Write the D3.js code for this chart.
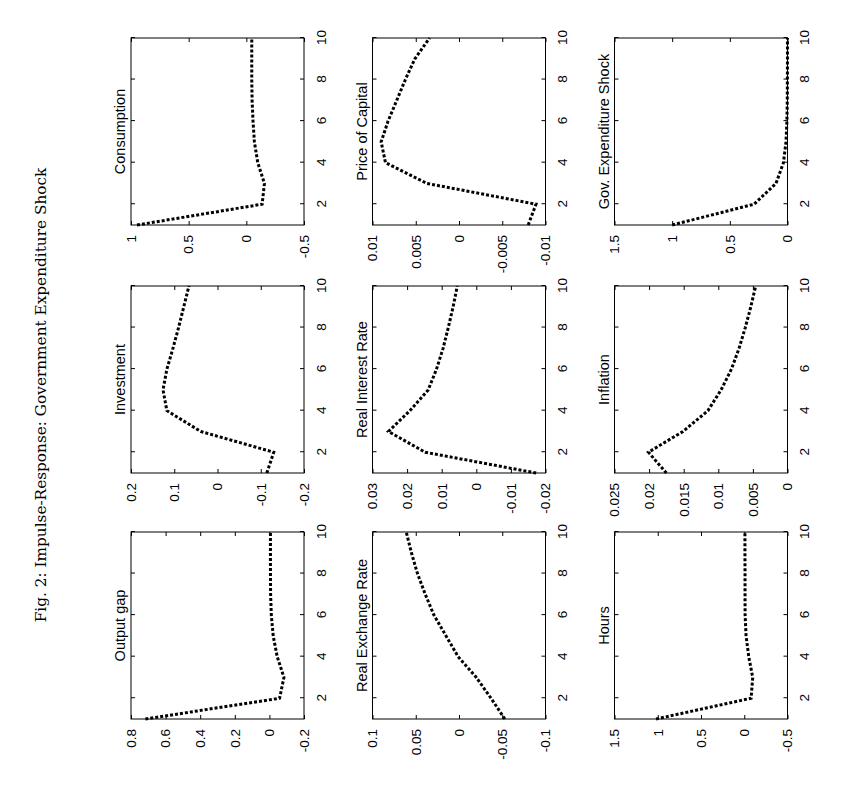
<!DOCTYPE html>
<html lang="en">
<head>
<meta charset="UTF-8">
<title>Impulse-Response: Government Expenditure Shock</title>
<script src="https://cdnjs.cloudflare.com/ajax/libs/d3/7.8.5/d3.min.js"></script>
<style>
  body { margin: 0; background: #fff; }
  .tick text { font-family: "Liberation Sans", Arial, sans-serif; font-size: 13.5px; fill: #000; }
  .tick line { stroke: #000; }
</style>
</head>
<body>
<svg id="chart" width="852" height="788"></svg>
<script>

// periods after the shock
var periods = [1, 2, 3, 4, 5, 6, 7, 8, 9, 10];
var xTicks = [2, 4, 6, 8, 10];

// responses
var outputGap   = [0.717, -0.059, -0.084, -0.045, -0.022, -0.011, -0.007, -0.006, -0.006, -0.006];
var investment  = [-0.114, -0.130, 0.039, 0.117, 0.126, 0.117, 0.103, 0.090, 0.078, 0.066];
var consumption = [0.948, -0.137, -0.157, -0.099, -0.070, -0.058, -0.050, -0.047, -0.047, -0.047];
var realExch    = [-0.053, -0.037, -0.020, 0.001, 0.015, 0.029, 0.039, 0.048, 0.055, 0.061];
var realRate    = [-0.0173, 0.0148, 0.0254, 0.0192, 0.0139, 0.0115, 0.0096, 0.0081, 0.0067, 0.0055];
var priceCap    = [-0.0080, -0.0089, 0.0037, 0.0085, 0.0090, 0.0082, 0.0072, 0.0062, 0.0051, 0.0034];
var hours       = [1.02, -0.079, -0.098, -0.052, -0.021, -0.010, -0.009, -0.009, -0.008, -0.008];
var inflation   = [0.0175, 0.0201, 0.0151, 0.0115, 0.0096, 0.0081, 0.0070, 0.0061, 0.0053, 0.0046];
var govShock    = [1.0, 0.29, 0.10, 0.035, 0.013, 0.005, 0.002, 0.001, 0.0004, 0.0002];

var titles = ["Output gap", "Investment", "Consumption",
              "Real Exchange Rate", "Real Interest Rate", "Price of Capital",
              "Hours", "Inflation", "Gov. Expenditure Shock"];
var series = [outputGap, investment, consumption,
              realExch, realRate, priceCap,
              hours, inflation, govShock];
var yDomains = [[-0.2, 0.8], [-0.2, 0.2], [-0.5, 1],
                [-0.1, 0.1], [-0.02, 0.03], [-0.01, 0.01],
                [-0.5, 1.5], [0, 0.025], [0, 1.5]];
var yTicks = [[-0.2, 0, 0.2, 0.4, 0.6, 0.8], [-0.2, -0.1, 0, 0.1, 0.2], [-0.5, 0, 0.5, 1],
              [-0.1, -0.05, 0, 0.05, 0.1], [-0.02, -0.01, 0, 0.01, 0.02, 0.03], [-0.01, -0.005, 0, 0.005, 0.01],
              [-0.5, 0, 0.5, 1, 1.5], [0, 0.005, 0.01, 0.015, 0.02, 0.025], [0, 0.5, 1, 1.5]];

var W = 852, H = 788;

// the page is printed in landscape: draw upright, then turn it
var page = d3.select("#chart").append("g")
    .attr("transform", "translate(0," + H + ") rotate(-90)");

var colX = [69, 315, 563],
    rowY = [131, 372.5, 614.5],
    pw = 187, ph = 173;

page.append("text")
    .attr("x", 393)
    .attr("y", 46)
    .attr("text-anchor", "middle")
    .style("font-family", "'DejaVu Serif', 'Liberation Serif', serif")
    .style("font-size", "15.3px")
    .text("Fig. 2: Impulse-Response:  Government  Expenditure Shock");

var fmt = function(d) { return String(+d.toFixed(4)); };

series.forEach(function(vals, i) {
  var g = page.append("g")
      .attr("transform", "translate(" + colX[i % 3] + "," + rowY[Math.floor(i / 3)] + ")");

  var x = d3.scaleLinear().domain([1, 10]).range([0, pw]);
  var y = d3.scaleLinear().domain(yDomains[i]).range([ph, 0]);

  g.append("g").attr("transform", "translate(0," + ph + ")")
    .call(d3.axisBottom(x).tickValues(xTicks).tickSize(-4).tickPadding(12).tickFormat(fmt));
  g.append("g")
    .call(d3.axisTop(x).tickValues(xTicks).tickSize(-4).tickFormat(""));
  g.append("g")
    .call(d3.axisLeft(y).tickValues(yTicks[i]).tickSize(-4).tickPadding(10).tickFormat(fmt));
  g.append("g").attr("transform", "translate(" + pw + ",0)")
    .call(d3.axisRight(y).tickValues(yTicks[i]).tickSize(-4).tickFormat(""));
  g.selectAll(".domain").remove();

  g.append("rect")
    .attr("width", pw).attr("height", ph)
    .attr("fill", "none").attr("stroke", "#000").attr("stroke-width", 1);

  var line = d3.line()
      .x(function(d, j) { return x(periods[j]); })
      .y(function(d) { return y(d); });

  g.append("path")
    .datum(vals)
    .attr("d", line)
    .attr("fill", "none")
    .attr("stroke", "#000")
    .attr("stroke-width", 3)
    .attr("stroke-dasharray", "3,2");

  g.append("text")
    .attr("x", pw / 2)
    .attr("y", -6)
    .attr("text-anchor", "middle")
    .style("font-family", "'Liberation Sans', Arial, sans-serif")
    .style("font-size", "14.5px")
    .text(titles[i]);
});

</script>
</body>
</html>
